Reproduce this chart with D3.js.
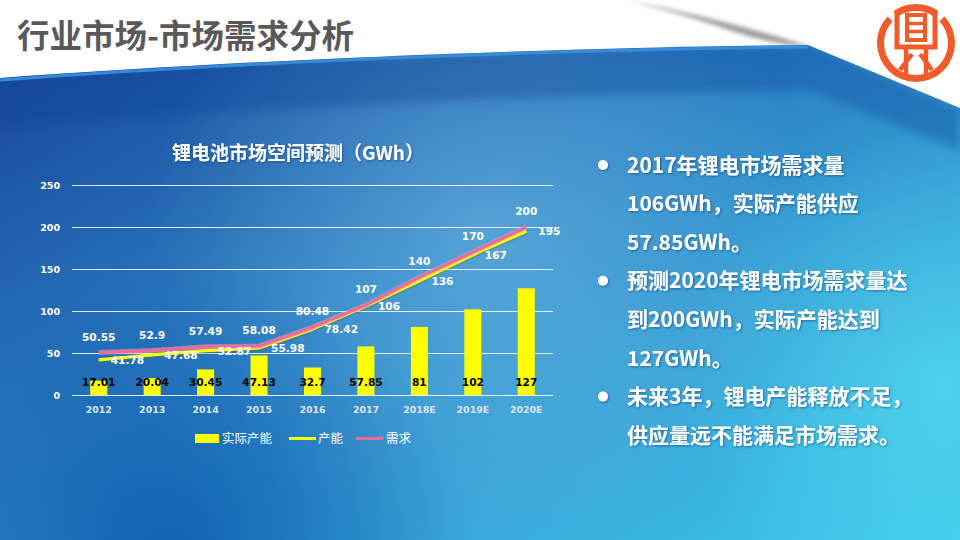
<!DOCTYPE html>
<html><head><meta charset="utf-8">
<script src="https://cdn.jsdelivr.net/npm/d3@7"></script>
<style>
html,body{margin:0;padding:0;background:#fff;}
svg{display:block;}
</style></head>
<body>
<svg id="chart" width="960" height="540"></svg>
<script>
// ---- data ----
const categories = ['2012','2013','2014','2015','2016','2017','2018E','2019E','2020E'];
const actualCapacity = [17.01,20.04,30.45,47.13,32.7,57.85,81,102,127];
const capacity = [41.78,47.68,52.87,55.98,78.42,106,136,167,195];
const demand = [50.55,52.9,57.49,58.08,80.48,107,140,170,200];
const yTicks = [0,50,100,150,200,250];
const seriesNames = ['实际产能','产能','需求'];
const pageTitle = '行业市场-市场需求分析';
const chartTitle = '锂电池市场空间预测（GWh）';
const bulletLines = [
  {text:'2017年锂电市场需求量', bullet:true},
  {text:'106GWh，实际产能供应', bullet:false},
  {text:'57.85GWh。', bullet:false},
  {text:'预测2020年锂电市场需求量达', bullet:true},
  {text:'到200GWh，实际产能达到', bullet:false},
  {text:'127GWh。', bullet:false},
  {text:'未来3年，锂电产能释放不足，', bullet:true},
  {text:'供应量远不能满足市场需求。', bullet:false}
];

const svg = d3.select('#chart');
const defs = svg.append('defs');

// ---- background ----
const lg = defs.append('linearGradient').attr('id','bgLin')
  .attr('x1','0').attr('y1','0').attr('x2','1').attr('y2','1');
lg.append('stop').attr('offset','0').attr('stop-color','#163f93');
lg.append('stop').attr('offset','0.45').attr('stop-color','#2c80c4');
lg.append('stop').attr('offset','1').attr('stop-color','#3fcaec');

const rgHi = defs.append('radialGradient').attr('id','bgHi').attr('gradientUnits','userSpaceOnUse')
  .attr('cx',480).attr('cy',230).attr('r',330);
rgHi.append('stop').attr('offset','0').attr('stop-color','#9fdcf5').attr('stop-opacity',0.35);
rgHi.append('stop').attr('offset','1').attr('stop-color','#9fdcf5').attr('stop-opacity',0);

const rgDark = defs.append('radialGradient').attr('id','bgDark').attr('gradientUnits','userSpaceOnUse')
  .attr('cx',170).attr('cy',560).attr('r',300);
rgDark.append('stop').attr('offset','0').attr('stop-color','#0750a6').attr('stop-opacity',0.75);
rgDark.append('stop').attr('offset','1').attr('stop-color','#0750a6').attr('stop-opacity',0);

const rgCyan = defs.append('radialGradient').attr('id','bgCyan').attr('gradientUnits','userSpaceOnUse')
  .attr('cx',940).attr('cy',380).attr('r',260);
rgCyan.append('stop').attr('offset','0').attr('stop-color','#5ce0f4').attr('stop-opacity',0.6);
rgCyan.append('stop').attr('offset','1').attr('stop-color','#5ce0f4').attr('stop-opacity',0);

defs.append('filter').attr('id','blur4').append('feGaussianBlur').attr('stdDeviation',4);
defs.append('filter').attr('id','blur2').append('feGaussianBlur').attr('stdDeviation',2.2);
const ts = defs.append('filter').attr('id','txtShadow').attr('x','-10%').attr('y','-30%').attr('width','130%').attr('height','160%');
ts.append('feDropShadow').attr('dx',1).attr('dy',1).attr('stdDeviation',0.8).attr('flood-color','#0b3a70').attr('flood-opacity',0.6);

svg.append('rect').attr('width',960).attr('height',540).attr('fill','#ffffff');

// page curl shadow (on white, behind blue)
svg.append('path').attr('d','M625,0 Q720,18 815,48 Q770,44 735,32 Q685,14 625,0 Z')
  .attr('fill','#4a4a4a').attr('opacity',0.55).attr('filter','url(#blur2)');

const bluePath = 'M0,78 C220,62 520,48 808,45 L960,108 L960,540 L0,540 Z';
defs.append('clipPath').attr('id','blueClip').append('path').attr('d',bluePath);
const bg = svg.append('g').attr('clip-path','url(#blueClip)');
bg.append('rect').attr('width',960).attr('height',540).attr('fill','url(#bgLin)');
bg.append('rect').attr('width',960).attr('height',540).attr('fill','url(#bgHi)');
bg.append('rect').attr('width',960).attr('height',540).attr('fill','url(#bgDark)');
bg.append('rect').attr('width',960).attr('height',540).attr('fill','url(#bgCyan)');
// darker band along top edge
bg.append('path').attr('d','M0,78 C220,62 520,48 808,45 L960,108 L960,150 L808,90 C520,95 220,110 0,125 Z')
  .attr('fill','#0e4596').attr('opacity',0.35).attr('filter','url(#blur4)');
// bright edge highlight
bg.append('path').attr('d','M0,80 C220,64 520,50 808,47')
  .attr('fill','none').attr('stroke','#3a8fe0').attr('stroke-width',3).attr('opacity',0.9);

// ---- logo ----
const orange = '#f15a29';
const logo = svg.append('g').attr('transform','translate(916,43)');
const ringArc = d3.arc().innerRadius(32).outerRadius(39);
[[-0.62,0.62],[0.82,2*Math.PI-0.82]].forEach(([a0,a1])=>{
  logo.append('path').attr('d',ringArc({startAngle:a0,endAngle:a1})).attr('fill',orange);
});
const lp = logo.append('g').attr('fill','none').attr('stroke',orange).attr('stroke-linecap','butt');
lp.append('rect').attr('x',-9).attr('y',-28).attr('width',18).attr('height',25).attr('stroke-width',4);
lp.append('path').attr('d','M-9,-19.5 H9 M-9,-11.5 H9').attr('stroke-width',3.5);
lp.append('path').attr('d','M-19,-30 V4 H19 V-30').attr('stroke-width',5);
lp.append('path').attr('d','M-10,4 V33 M10,4 V33 M-4,11 L-16,27 M4,11 L16,27').attr('stroke-width',4.5);

// ---- page title ----
svg.append('text').attr('x',17).attr('y',48)
  .attr('font-family','"Noto Sans CJK SC", sans-serif').attr('font-weight',700)
  .attr('font-size',32.5).attr('fill','#595959').text(pageTitle);

// ---- chart ----
const x = d3.scaleBand().domain(categories).range([72,553]).padding(0);
const y = d3.scaleLinear().domain([0,250]).range([395,185]);
const cx = c => x(c) + x.bandwidth()/2;
const labelFont = '"DejaVu Sans", Verdana, sans-serif';

svg.append('text').attr('x',298).attr('y',160).attr('text-anchor','middle')
  .attr('font-family','"Noto Sans CJK SC", sans-serif').attr('font-weight',700)
  .attr('font-size',19).attr('fill','#ffffff').attr('filter','url(#txtShadow)').text(chartTitle);

// gridlines + y axis
const yAxis = d3.axisLeft(y).tickValues(yTicks).tickSize(-(553-72)).tickPadding(12);
const gy = svg.append('g').attr('transform','translate(72,0)').call(yAxis);
gy.select('.domain').remove();
gy.selectAll('.tick line').attr('stroke','#ffffff').attr('stroke-width',1).attr('opacity',0.85);
gy.selectAll('.tick text').attr('fill','#ffffff').attr('font-family',labelFont)
  .attr('font-weight',700).attr('font-size',9.5);

// x axis
const xAxis = d3.axisBottom(x).tickSize(0).tickPadding(11);
const gx = svg.append('g').attr('transform','translate(0,395)').call(xAxis);
gx.select('.domain').remove();
gx.selectAll('.tick text').attr('fill','#dfe6ee').attr('font-family',labelFont)
  .attr('font-weight',700).attr('font-size',9.4);

// bars
const barW = 17;
svg.append('g').selectAll('rect').data(categories).join('rect')
  .attr('x',(c)=>cx(c)-barW/2).attr('width',barW)
  .attr('y',(c,i)=>y(actualCapacity[i])).attr('height',(c,i)=>y(0)-y(actualCapacity[i]))
  .attr('fill','#ffff00');

// lines
const line = d3.line().x(d=>cx(d.c)).y(d=>y(d.v));
const capData = categories.map((c,i)=>({c, v:capacity[i]}));
const demData = categories.map((c,i)=>({c, v:demand[i]}));
svg.append('path').datum(capData).attr('d',line).attr('fill','none')
  .attr('stroke','#5a6a20').attr('stroke-width',4).attr('opacity',0.25).attr('transform','translate(0,1.5)');
svg.append('path').datum(capData).attr('d',line).attr('fill','none')
  .attr('stroke','#ffff00').attr('stroke-width',3.2).attr('stroke-linejoin','round');
svg.append('path').datum(demData).attr('d',line).attr('fill','none')
  .attr('stroke','#f7a3c0').attr('stroke-width',5).attr('opacity',0.5).attr('stroke-linejoin','round');
svg.append('path').datum(demData).attr('d',line).attr('fill','none')
  .attr('stroke','#ee6a98').attr('stroke-width',3.2).attr('stroke-linejoin','round');

// bar labels (inside base)
svg.append('g').selectAll('text').data(categories).join('text')
  .attr('x',c=>cx(c)).attr('y',y(0)-9).attr('text-anchor','middle')
  .attr('font-family',labelFont).attr('font-weight',700).attr('font-size',10.6)
  .attr('fill','#000000').text((c,i)=>actualCapacity[i]);

// capacity labels (right)
svg.append('g').selectAll('text').data(capData).join('text')
  .attr('x',d=>cx(d.c)+12).attr('y',d=>y(d.v)+4)
  .attr('font-family',labelFont).attr('font-weight',700).attr('font-size',10.6)
  .attr('fill','#ffffff').text(d=>d.v);

// demand labels (above)
svg.append('g').selectAll('text').data(demData).join('text')
  .attr('x',d=>cx(d.c)).attr('y',d=>y(d.v)-12).attr('text-anchor','middle')
  .attr('font-family',labelFont).attr('font-weight',700).attr('font-size',10.6)
  .attr('fill','#ffffff').text(d=>d.v);

// legend
const lgd = svg.append('g').attr('font-family','"Noto Sans CJK SC", sans-serif').attr('font-size',12.5).attr('fill','#ffffff');
lgd.append('rect').attr('x',195).attr('y',434).attr('width',24).attr('height',9).attr('fill','#ffff00');
lgd.append('text').attr('x',222).attr('y',443).text(seriesNames[0]);
lgd.append('line').attr('x1',289).attr('x2',316).attr('y1',438.5).attr('y2',438.5).attr('stroke','#ffff00').attr('stroke-width',3);
lgd.append('text').attr('x',318).attr('y',443).text(seriesNames[1]);
lgd.append('line').attr('x1',356).attr('x2',383).attr('y1',438.5).attr('y2',438.5).attr('stroke','#ee6a98').attr('stroke-width',3);
lgd.append('text').attr('x',386).attr('y',443).text(seriesNames[2]);

// right text
const tg = svg.append('g').attr('font-family','"Noto Sans CJK SC", sans-serif').attr('font-weight',700)
  .attr('font-size',21).attr('fill','#ffffff').attr('filter','url(#txtShadow)');
bulletLines.forEach((l,i)=>{
  const yc = 165 + i*38.6;
  if(l.bullet) tg.append('circle').attr('cx',603).attr('cy',yc).attr('r',5).attr('fill','#ffffff');
  tg.append('text').attr('x',627).attr('y',yc+7.5).text(l.text);
});
</script>
</body></html>
